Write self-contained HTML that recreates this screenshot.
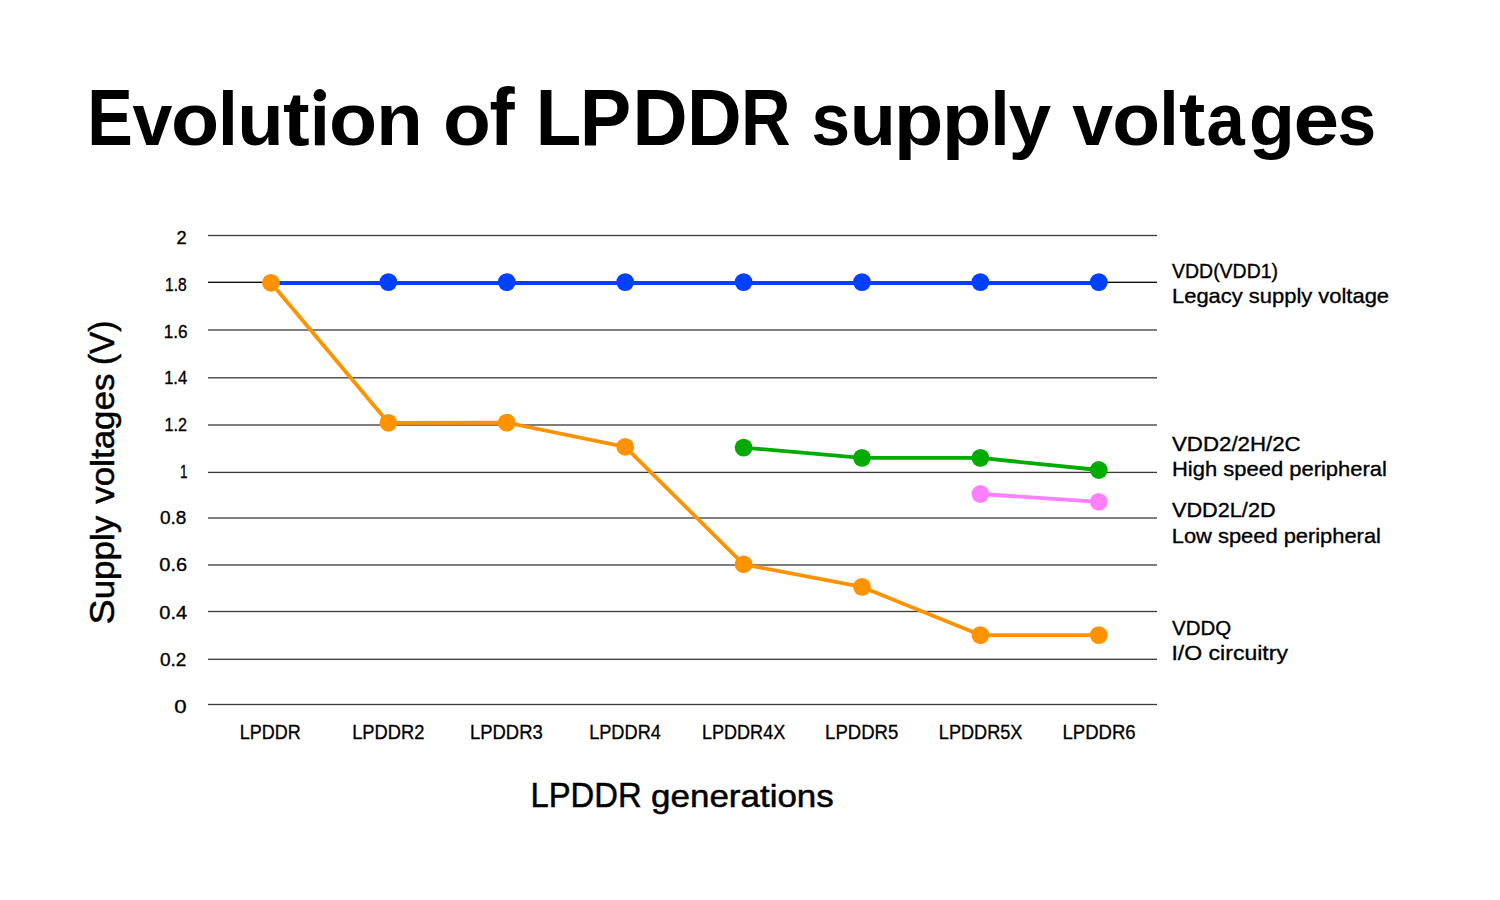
<!DOCTYPE html>
<html><head><meta charset="utf-8"><title>Evolution of LPDDR supply voltages</title>
<style>
html,body{margin:0;padding:0;background:#fff;}
body{width:1500px;height:900px;overflow:hidden;position:relative;font-family:"Liberation Sans", sans-serif;}
svg{position:absolute;left:0;top:0;display:block;}
text{font-family:"Liberation Sans", sans-serif;fill:#000;}
</style></head><body>
<svg width="1500" height="900" viewBox="0 0 1500 900">
<rect x="208" y="234.85" width="949" height="1.3" fill="#3a3a3a"/>
<rect x="208" y="281.65" width="949" height="1.3" fill="#000"/>
<rect x="208" y="329.35" width="949" height="1.3" fill="#3a3a3a"/>
<rect x="208" y="377.15" width="949" height="1.3" fill="#3a3a3a"/>
<rect x="208" y="424.35" width="949" height="1.3" fill="#3a3a3a"/>
<rect x="208" y="471.75" width="949" height="1.3" fill="#3a3a3a"/>
<rect x="208" y="517.35" width="949" height="1.3" fill="#3a3a3a"/>
<rect x="208" y="564.35" width="949" height="1.3" fill="#3a3a3a"/>
<rect x="208" y="610.85" width="949" height="1.3" fill="#3a3a3a"/>
<rect x="208" y="658.65" width="949" height="1.3" fill="#3a3a3a"/>
<rect x="208" y="703.85" width="949" height="1.3" fill="#3a3a3a"/>
<text transform="translate(87.13,145.3) scale(0.8491,1)" font-size="80.4" font-weight="bold">E</text>
<text transform="translate(132.42,145.3) scale(0.9565,1)" font-size="75.0" font-weight="bold">v</text>
<text transform="translate(170.92,145.3) scale(1.0512,1)" font-size="75.0" font-weight="bold">o</text>
<text transform="translate(217.91,145.3) scale(0.9361,1)" font-size="76.3" font-weight="bold">l</text>
<text transform="translate(237.29,145.3) scale(1.0133,1)" font-size="75.0" font-weight="bold">u</text>
<text transform="translate(283.02,145.3) scale(1.0518,1)" font-size="76.1" font-weight="bold">t</text>
<rect x="314.90" y="105.8" width="9.80" height="39.50" fill="#000"/>
<circle cx="319.80" cy="95.3" r="6.2" fill="#000"/>
<text transform="translate(328.92,145.3) scale(1.0512,1)" font-size="75.0" font-weight="bold">o</text>
<text transform="translate(376.29,145.3) scale(1.0133,1)" font-size="75.0" font-weight="bold">n</text>
<text transform="translate(442.94,145.3) scale(1.0437,1)" font-size="75.0" font-weight="bold">o</text>
<text transform="translate(489.41,145.3) scale(0.9275,1)" font-size="81.4" font-weight="bold">f</text>
<text transform="translate(535.82,145.3) scale(0.9258,1)" font-size="80.4" font-weight="bold">L</text>
<text transform="translate(579.73,145.3) scale(0.9604,1)" font-size="80.4" font-weight="bold">P</text>
<text transform="translate(632.50,145.3) scale(0.9491,1)" font-size="80.4" font-weight="bold">D</text>
<text transform="translate(686.94,145.3) scale(0.9410,1)" font-size="80.4" font-weight="bold">D</text>
<text transform="translate(741.01,145.3) scale(0.8543,1)" font-size="80.4" font-weight="bold">R</text>
<text transform="translate(811.56,145.3) scale(0.9250,1)" font-size="75.0" font-weight="bold">s</text>
<text transform="translate(849.81,145.3) scale(1.0078,1)" font-size="75.0" font-weight="bold">u</text>
<text transform="translate(893.64,145.3) scale(1.0849,1)" font-size="75.0" font-weight="bold">p</text>
<text transform="translate(941.84,145.3) scale(1.0849,1)" font-size="75.0" font-weight="bold">p</text>
<text transform="translate(990.62,145.3) scale(0.8979,1)" font-size="76.3" font-weight="bold">l</text>
<text transform="translate(1008.70,145.3) scale(1.0166,1)" font-size="75.0" font-weight="bold">y</text>
<text transform="translate(1072.31,145.3) scale(0.9784,1)" font-size="75.0" font-weight="bold">v</text>
<text transform="translate(1112.13,145.3) scale(1.0462,1)" font-size="75.0" font-weight="bold">o</text>
<text transform="translate(1159.31,145.3) scale(0.9170,1)" font-size="76.3" font-weight="bold">l</text>
<text transform="translate(1179.03,145.3) scale(1.0390,1)" font-size="76.1" font-weight="bold">t</text>
<text transform="translate(1206.58,145.3) scale(0.9177,1)" font-size="75.0" font-weight="bold">a</text>
<text transform="translate(1248.79,145.3) scale(1.0101,1)" font-size="75.0" font-weight="bold">g</text>
<text transform="translate(1293.40,145.3) scale(1.0934,1)" font-size="75.0" font-weight="bold">e</text>
<text transform="translate(1337.45,145.3) scale(0.9278,1)" font-size="75.0" font-weight="bold">s</text>
<text id="y0" x="176.61" y="243.90" font-size="19" stroke="#000" stroke-width="0.35" textLength="10.15" lengthAdjust="spacingAndGlyphs">2</text>
<text id="y1" x="165.00" y="290.70" font-size="19" stroke="#000" stroke-width="0.35" textLength="21.67" lengthAdjust="spacingAndGlyphs">1.8</text>
<text id="y2" x="163.72" y="337.90" font-size="19" stroke="#000" stroke-width="0.35" textLength="23.86" lengthAdjust="spacingAndGlyphs">1.6</text>
<text id="y3" x="164.18" y="384.40" font-size="19" stroke="#000" stroke-width="0.35" textLength="23.00" lengthAdjust="spacingAndGlyphs">1.4</text>
<text id="y4" x="164.41" y="431.00" font-size="19" stroke="#000" stroke-width="0.35" textLength="22.50" lengthAdjust="spacingAndGlyphs">1.2</text>
<text id="y5" x="179.96" y="477.90" font-size="19" stroke="#000" stroke-width="0.35" textLength="7.54" lengthAdjust="spacingAndGlyphs">1</text>
<text id="y6" x="160.00" y="524.40" font-size="19" stroke="#000" stroke-width="0.35" textLength="26.42" lengthAdjust="spacingAndGlyphs">0.8</text>
<text id="y7" x="159.28" y="571.40" font-size="19" stroke="#000" stroke-width="0.35" textLength="27.82" lengthAdjust="spacingAndGlyphs">0.6</text>
<text id="y8" x="159.28" y="618.60" font-size="19" stroke="#000" stroke-width="0.35" textLength="27.82" lengthAdjust="spacingAndGlyphs">0.4</text>
<text id="y9" x="160.00" y="665.80" font-size="19" stroke="#000" stroke-width="0.35" textLength="26.42" lengthAdjust="spacingAndGlyphs">0.2</text>
<text id="y10" x="174.35" y="713.00" font-size="19" stroke="#000" stroke-width="0.35" textLength="12.38" lengthAdjust="spacingAndGlyphs">0</text>
<text id="c0" x="239.75" y="738.80" font-size="20" stroke="#000" stroke-width="0.3" textLength="60.99" lengthAdjust="spacingAndGlyphs">LPDDR</text>
<text id="c1" x="352.13" y="738.80" font-size="20" stroke="#000" stroke-width="0.3" textLength="72.26" lengthAdjust="spacingAndGlyphs">LPDDR2</text>
<text id="c2" x="469.92" y="738.80" font-size="20" stroke="#000" stroke-width="0.3" textLength="72.87" lengthAdjust="spacingAndGlyphs">LPDDR3</text>
<text id="c3" x="589.14" y="738.80" font-size="20" stroke="#000" stroke-width="0.3" textLength="71.75" lengthAdjust="spacingAndGlyphs">LPDDR4</text>
<text id="c4" x="701.91" y="738.80" font-size="20" stroke="#000" stroke-width="0.3" textLength="83.34" lengthAdjust="spacingAndGlyphs">LPDDR4X</text>
<text id="c5" x="825.11" y="738.80" font-size="20" stroke="#000" stroke-width="0.3" textLength="73.08" lengthAdjust="spacingAndGlyphs">LPDDR5</text>
<text id="c6" x="938.80" y="738.80" font-size="20" stroke="#000" stroke-width="0.3" textLength="83.62" lengthAdjust="spacingAndGlyphs">LPDDR5X</text>
<text id="c7" x="1062.50" y="738.80" font-size="20" stroke="#000" stroke-width="0.3" textLength="73.08" lengthAdjust="spacingAndGlyphs">LPDDR6</text>
<text id="xt0" x="530.44" y="806.90" font-size="35" stroke="#000" stroke-width="0.5" textLength="111.27" lengthAdjust="spacingAndGlyphs">LPDDR</text>
<text id="xt1" x="651.08" y="806.90" font-size="35" stroke="#000" stroke-width="0.5" textLength="182.70" lengthAdjust="spacingAndGlyphs"><tspan font-size="31.5">generations</tspan></text>
<text id="l0" x="1172.00" y="277.80" font-size="21" stroke="#000" stroke-width="0.35" textLength="106.06" lengthAdjust="spacingAndGlyphs">VDD(VDD1)</text>
<text id="l1" x="1172.01" y="302.70" font-size="21" stroke="#000" stroke-width="0.35" textLength="217.07" lengthAdjust="spacingAndGlyphs">Legacy supply voltage</text>
<text id="l2" x="1172.00" y="450.60" font-size="21" stroke="#000" stroke-width="0.35" textLength="128.71" lengthAdjust="spacingAndGlyphs">VDD2/2H/2C</text>
<text id="l3" x="1172.01" y="475.90" font-size="21" stroke="#000" stroke-width="0.35" textLength="214.92" lengthAdjust="spacingAndGlyphs">High speed peripheral</text>
<text id="l4" x="1172.00" y="517.00" font-size="21" stroke="#000" stroke-width="0.35" textLength="103.60" lengthAdjust="spacingAndGlyphs">VDD2L/2D</text>
<text id="l5" x="1171.73" y="542.60" font-size="21" stroke="#000" stroke-width="0.35" textLength="209.23" lengthAdjust="spacingAndGlyphs">Low speed peripheral</text>
<text id="l6" x="1172.00" y="634.70" font-size="21" stroke="#000" stroke-width="0.35" textLength="59.07" lengthAdjust="spacingAndGlyphs">VDDQ</text>
<text id="l7" x="1171.48" y="659.90" font-size="21" stroke="#000" stroke-width="0.35" textLength="116.49" lengthAdjust="spacingAndGlyphs">I/O circuitry</text>
<text id="r0" transform="translate(114.0,0) rotate(-90)" x="-624.53" y="0" font-size="35" stroke="#000" stroke-width="0.5" textLength="108.64" lengthAdjust="spacingAndGlyphs">S<tspan font-size="32.4">upply</tspan></text>
<text id="r1" transform="translate(114.0,0) rotate(-90)" x="-503.75" y="0" font-size="35" stroke="#000" stroke-width="0.5" textLength="130.21" lengthAdjust="spacingAndGlyphs"><tspan font-size="32.4">voltages</tspan></text>
<text id="r2" transform="translate(114.0,0) rotate(-90)" x="-365.09" y="0" font-size="35" stroke="#000" stroke-width="0.5" textLength="44.39" lengthAdjust="spacingAndGlyphs">(V)</text>
<polyline points="270.0,283.0 388.4,283.0 506.8,283.0 625.2,283.0 743.6,283.0 862.0,283.0 980.4,283.0 1098.8,283.0" fill="none" stroke="#0040ff" stroke-width="3.8" stroke-linejoin="round"/>
<circle cx="388.4" cy="282.1" r="8.9" fill="#0040ff"/>
<circle cx="506.8" cy="282.1" r="8.9" fill="#0040ff"/>
<circle cx="625.2" cy="282.1" r="8.9" fill="#0040ff"/>
<circle cx="743.6" cy="282.1" r="8.9" fill="#0040ff"/>
<circle cx="862.0" cy="282.1" r="8.9" fill="#0040ff"/>
<circle cx="980.4" cy="282.1" r="8.9" fill="#0040ff"/>
<circle cx="1098.8" cy="282.1" r="8.9" fill="#0040ff"/>
<polyline points="743.6,447.6 862.0,457.9 980.4,457.9 1098.8,470.0" fill="none" stroke="#05ab05" stroke-width="3.8" stroke-linejoin="round"/>
<circle cx="743.6" cy="447.6" r="8.9" fill="#05ab05"/>
<circle cx="862.0" cy="457.9" r="8.9" fill="#05ab05"/>
<circle cx="980.4" cy="457.9" r="8.9" fill="#05ab05"/>
<circle cx="1098.8" cy="470.0" r="8.9" fill="#05ab05"/>
<polyline points="980.4,494.0 1098.8,501.8" fill="none" stroke="#ff80ff" stroke-width="3.8" stroke-linejoin="round"/>
<circle cx="980.4" cy="494.0" r="8.9" fill="#ff80ff"/>
<circle cx="1098.8" cy="501.8" r="8.9" fill="#ff80ff"/>
<polyline points="271.0,282.8 388.4,422.8 506.8,422.6 625.2,446.8 743.6,564.3 862.0,586.9 980.4,635.1 1098.8,635.1" fill="none" stroke="#ff9200" stroke-width="3.8" stroke-linejoin="round"/>
<circle cx="271.0" cy="282.8" r="8.9" fill="#ff9200"/>
<circle cx="388.4" cy="422.8" r="8.9" fill="#ff9200"/>
<circle cx="506.8" cy="422.6" r="8.9" fill="#ff9200"/>
<circle cx="625.2" cy="446.8" r="8.9" fill="#ff9200"/>
<circle cx="743.6" cy="564.3" r="8.9" fill="#ff9200"/>
<circle cx="862.0" cy="586.9" r="8.9" fill="#ff9200"/>
<circle cx="980.4" cy="635.1" r="8.9" fill="#ff9200"/>
<circle cx="1098.8" cy="635.1" r="8.9" fill="#ff9200"/>
</svg>
</body></html>
